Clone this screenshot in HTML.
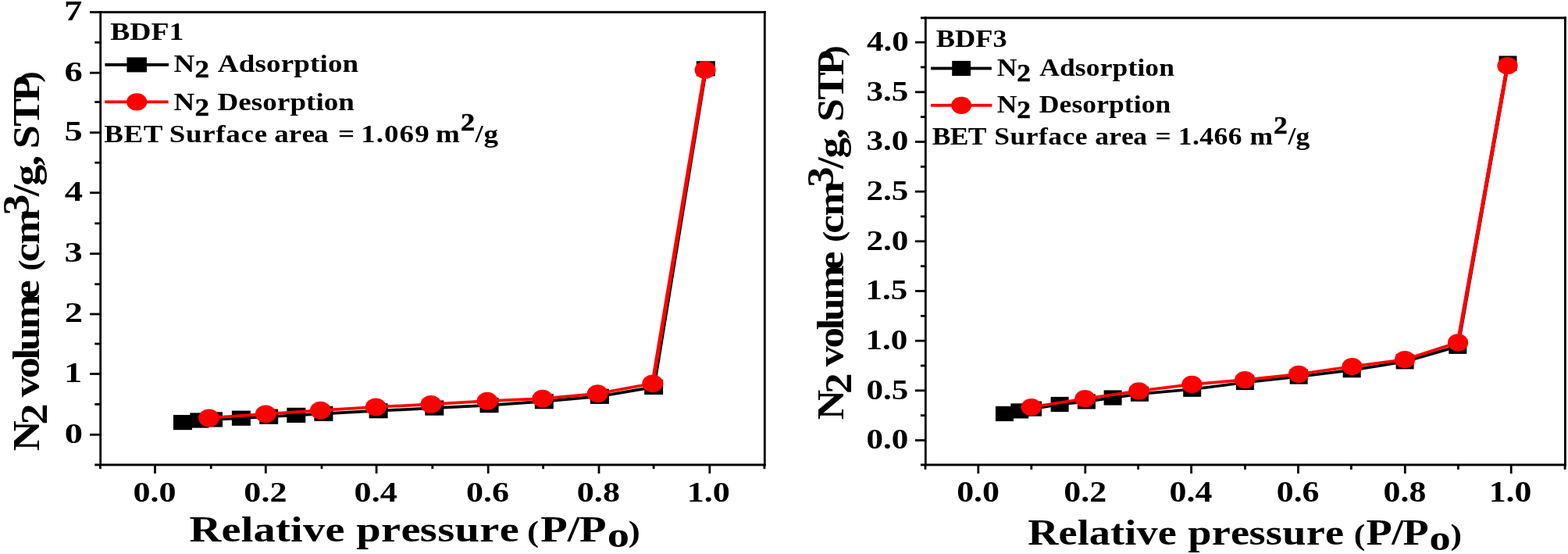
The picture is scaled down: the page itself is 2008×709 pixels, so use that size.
<!DOCTYPE html>
<html lang="en">
<head>
<meta charset="utf-8">
<title>N2 adsorption-desorption isotherms</title>
<style>
html,body{margin:0;padding:0;background:#fff;}
body{width:2008px;height:709px;overflow:hidden;}
svg{display:block;}
text{font-family:"Liberation Serif","Times New Roman",serif;font-weight:bold;font-size:40px;fill:#000;white-space:pre;}
</style>
</head>
<body>
<svg width="2008" height="709" viewBox="0 0 2008 709">
<rect x="0" y="0" width="2008" height="709" fill="#fff"/>
<g id="left-axes">
<rect x="127.30" y="14.15" width="2.80" height="582.20" fill="#000"/>
<rect x="977.90" y="14.15" width="2.80" height="582.20" fill="#000"/>
<rect x="115.00" y="14.15" width="865.70" height="2.90" fill="#000"/>
<rect x="121.30" y="593.45" width="859.40" height="2.90" fill="#000"/>
<rect x="115.00" y="554.90" width="13.70" height="2.80" fill="#000"/>
<rect x="115.00" y="477.10" width="13.70" height="2.80" fill="#000"/>
<rect x="115.00" y="400.60" width="13.70" height="2.80" fill="#000"/>
<rect x="115.00" y="323.30" width="13.70" height="2.80" fill="#000"/>
<rect x="115.00" y="245.30" width="13.70" height="2.80" fill="#000"/>
<rect x="115.00" y="168.30" width="13.70" height="2.80" fill="#000"/>
<rect x="115.00" y="91.80" width="13.70" height="2.80" fill="#000"/>
<rect x="121.30" y="516.00" width="7.40" height="2.80" fill="#000"/>
<rect x="121.30" y="438.60" width="7.40" height="2.80" fill="#000"/>
<rect x="121.30" y="362.30" width="7.40" height="2.80" fill="#000"/>
<rect x="121.30" y="284.50" width="7.40" height="2.80" fill="#000"/>
<rect x="121.30" y="206.80" width="7.40" height="2.80" fill="#000"/>
<rect x="121.30" y="129.20" width="7.40" height="2.80" fill="#000"/>
<rect x="121.30" y="52.90" width="7.40" height="2.80" fill="#000"/>
<rect x="127.00" y="594.90" width="2.80" height="5.25" fill="#000"/>
<rect x="197.10" y="594.90" width="2.80" height="11.05" fill="#000"/>
<rect x="268.80" y="594.90" width="2.80" height="5.25" fill="#000"/>
<rect x="338.90" y="594.90" width="2.80" height="11.05" fill="#000"/>
<rect x="410.60" y="594.90" width="2.80" height="5.25" fill="#000"/>
<rect x="480.70" y="594.90" width="2.80" height="11.05" fill="#000"/>
<rect x="552.40" y="594.90" width="2.80" height="5.25" fill="#000"/>
<rect x="623.80" y="594.90" width="2.80" height="11.05" fill="#000"/>
<rect x="694.20" y="594.90" width="2.80" height="5.25" fill="#000"/>
<rect x="765.60" y="594.90" width="2.80" height="11.05" fill="#000"/>
<rect x="835.70" y="594.90" width="2.80" height="5.25" fill="#000"/>
<rect x="907.40" y="594.90" width="2.80" height="11.05" fill="#000"/>
<rect x="977.50" y="594.90" width="2.80" height="5.25" fill="#000"/>
</g>
<g id="left-y-ticks">
<text transform="translate(82.65 566.64) scale(1.1647 0.9000)">0</text>
<text transform="translate(82.01 488.84) scale(1.1647 0.9000)">1</text>
<text transform="translate(82.65 412.34) scale(1.1647 0.9000)">2</text>
<text transform="translate(82.59 335.04) scale(1.1647 0.9000)">3</text>
<text transform="translate(82.77 257.04) scale(1.1647 0.9000)">4</text>
<text transform="translate(82.59 180.04) scale(1.1647 0.9000)">5</text>
<text transform="translate(82.54 103.54) scale(1.1647 0.9000)">6</text>
<text transform="translate(81.90 25.94) scale(1.1647 0.9000)">7</text>
</g><g id="left-x-ticks">
<text transform="translate(170.45 642.24) scale(1.1021 0.9074)">0.0</text>
<text transform="translate(312.36 642.24) scale(1.1021 0.9074)">0.2</text>
<text transform="translate(453.61 642.24) scale(1.1021 0.9074)">0.4</text>
<text transform="translate(596.98 642.24) scale(1.1021 0.9074)">0.6</text>
<text transform="translate(738.84 642.24) scale(1.1021 0.9074)">0.8</text>
<text transform="translate(879.81 642.24) scale(1.1021 0.9074)">1.0</text>
</g>
<g id="left-series">
<polyline transform="scale(1.35 1)" points="173.33,540.60 189.11,538.00 202.22,536.90 228.81,535.20 254.96,533.20 280.96,531.40 306.96,529.40 358.96,525.70 412.07,522.10 464.07,518.60 516.15,513.70 568.81,507.30 620.07,495.40 669.48,87.80" fill="none" stroke="#000" stroke-width="3.7" stroke-linejoin="round"/>
<rect x="222.00" y="531.00" width="24.00" height="19.20" fill="#000"/>
<rect x="243.30" y="528.40" width="24.00" height="19.20" fill="#000"/>
<rect x="261.00" y="527.30" width="24.00" height="19.20" fill="#000"/>
<rect x="296.90" y="525.60" width="24.00" height="19.20" fill="#000"/>
<rect x="332.20" y="523.60" width="24.00" height="19.20" fill="#000"/>
<rect x="367.30" y="521.80" width="24.00" height="19.20" fill="#000"/>
<rect x="402.40" y="519.80" width="24.00" height="19.20" fill="#000"/>
<rect x="472.60" y="516.10" width="24.00" height="19.20" fill="#000"/>
<rect x="544.30" y="512.50" width="24.00" height="19.20" fill="#000"/>
<rect x="614.50" y="509.00" width="24.00" height="19.20" fill="#000"/>
<rect x="684.80" y="504.10" width="24.00" height="19.20" fill="#000"/>
<rect x="755.90" y="497.70" width="24.00" height="19.20" fill="#000"/>
<rect x="825.10" y="485.80" width="24.00" height="19.20" fill="#000"/>
<rect x="891.80" y="78.20" width="24.00" height="19.20" fill="#000"/>
<polyline transform="scale(1.35 1)" points="198.22,534.90 252.07,529.80 304.07,525.10 356.52,520.90 408.81,517.40 462.22,513.20 514.67,510.20 566.81,503.70 619.11,490.80 668.96,89.40" fill="none" stroke="#f00" stroke-width="3.7" stroke-linejoin="round"/>
<ellipse cx="267.60" cy="534.90" rx="13.50" ry="11.40" fill="#f00"/>
<ellipse cx="340.30" cy="529.80" rx="13.50" ry="11.40" fill="#f00"/>
<ellipse cx="410.50" cy="525.10" rx="13.50" ry="11.40" fill="#f00"/>
<ellipse cx="481.30" cy="520.90" rx="13.50" ry="11.40" fill="#f00"/>
<ellipse cx="551.90" cy="517.40" rx="13.50" ry="11.40" fill="#f00"/>
<ellipse cx="624.00" cy="513.20" rx="13.50" ry="11.40" fill="#f00"/>
<ellipse cx="694.80" cy="510.20" rx="13.50" ry="11.40" fill="#f00"/>
<ellipse cx="765.20" cy="503.70" rx="13.50" ry="11.40" fill="#f00"/>
<ellipse cx="835.80" cy="490.80" rx="13.50" ry="11.40" fill="#f00"/>
<ellipse cx="903.10" cy="89.40" rx="13.50" ry="11.40" fill="#f00"/>
</g>
<g id="left-legend">
<rect x="134.40" y="81.00" width="81.60" height="3.80" fill="#000"/>
<rect x="162.45" y="73.40" width="25.50" height="19.00" fill="#000"/>
<rect x="134.20" y="128.50" width="81.40" height="3.80" fill="#f00"/>
<ellipse cx="175.20" cy="130.40" rx="13.10" ry="11.20" fill="#f00"/>
<text transform="translate(141.14 50.72) scale(0.9424 0.7947)">BDF1</text>
<text xml:space="preserve" transform="translate(0.00 92.10) scale(0.9250 0.7786)"><tspan x="240.54" y="0.00">N</tspan><tspan x="269.78" y="8.86" stroke="#000" stroke-width="0.589" stroke-linejoin="round">2</tspan><tspan x="289.78 301.44 330.50 352.91 368.65 388.82 406.75 429.17 442.66 453.94 474.11" y="0.00"> Adsorption</tspan></text>
<text xml:space="preserve" transform="translate(0.00 140.60) scale(0.9250 0.7786)"><tspan x="240.54" y="0.00">N</tspan><tspan x="269.78" y="8.86" stroke="#000" stroke-width="0.589" stroke-linejoin="round">2</tspan><tspan x="289.78 301.14 330.10 347.94 363.59 383.67 401.50 423.83 437.23 448.42 468.50" y="0.00"> Desorption</tspan></text>
<text xml:space="preserve" transform="translate(0.00 181.80) scale(0.9250 0.7786)"><tspan x="144.16 171.44 198.72 225.40 234.33 257.32 280.30 298.79 312.85 333.59 352.08 369.83 379.67 399.84 417.76 434.97 454.97 468.05 490.85 499.61 520.77 531.94 553.10 574.26 594.26 603.15" y="0.00">BET Surface area = 1.069 m</tspan><tspan x="637.68" y="-18.75" stroke="#000" stroke-width="0.589" stroke-linejoin="round">2</tspan><tspan x="657.86 669.76" y="0.00">/g</tspan></text>
</g>
<text xml:space="preserve" transform="translate(0.00 693.20) scale(1.4125 1.1527)"><tspan x="171.62 200.65 218.54 229.80 249.94 263.40 274.65 294.80 312.55 323.04 345.53 363.52 380.79 396.60 412.40 434.89 452.88" y="0.00">Relative pressure</tspan><tspan x="469.92 477.88" y="0.00" font-size="32.00"> (</tspan><tspan x="490.16 514.59 525.31" y="0.00">P/P</tspan><tspan x="550.60" y="6.07">o</tspan><tspan x="569.71" y="0.00" font-size="32.00">)</tspan></text>
<g id="right-axes">
<rect x="1183.90" y="21.45" width="2.80" height="574.90" fill="#000"/>
<rect x="2003.00" y="21.45" width="2.80" height="574.90" fill="#000"/>
<rect x="1178.90" y="21.45" width="826.90" height="2.90" fill="#000"/>
<rect x="1178.90" y="593.45" width="826.90" height="2.90" fill="#000"/>
<rect x="1171.90" y="562.10" width="13.40" height="2.80" fill="#000"/>
<rect x="1171.90" y="498.43" width="13.40" height="2.80" fill="#000"/>
<rect x="1171.90" y="434.76" width="13.40" height="2.80" fill="#000"/>
<rect x="1171.90" y="371.09" width="13.40" height="2.80" fill="#000"/>
<rect x="1171.90" y="307.42" width="13.40" height="2.80" fill="#000"/>
<rect x="1171.90" y="243.75" width="13.40" height="2.80" fill="#000"/>
<rect x="1171.90" y="180.08" width="13.40" height="2.80" fill="#000"/>
<rect x="1171.90" y="116.41" width="13.40" height="2.80" fill="#000"/>
<rect x="1171.90" y="52.74" width="13.40" height="2.80" fill="#000"/>
<rect x="1178.90" y="530.26" width="6.40" height="2.80" fill="#000"/>
<rect x="1178.90" y="466.60" width="6.40" height="2.80" fill="#000"/>
<rect x="1178.90" y="402.93" width="6.40" height="2.80" fill="#000"/>
<rect x="1178.90" y="339.25" width="6.40" height="2.80" fill="#000"/>
<rect x="1178.90" y="275.59" width="6.40" height="2.80" fill="#000"/>
<rect x="1178.90" y="211.91" width="6.40" height="2.80" fill="#000"/>
<rect x="1178.90" y="148.24" width="6.40" height="2.80" fill="#000"/>
<rect x="1178.90" y="84.57" width="6.40" height="2.80" fill="#000"/>
<rect x="1183.60" y="594.90" width="2.80" height="5.95" fill="#000"/>
<rect x="1251.40" y="594.90" width="2.80" height="11.15" fill="#000"/>
<rect x="1319.40" y="594.90" width="2.80" height="5.95" fill="#000"/>
<rect x="1388.40" y="594.90" width="2.80" height="11.15" fill="#000"/>
<rect x="1456.20" y="594.90" width="2.80" height="5.95" fill="#000"/>
<rect x="1524.20" y="594.90" width="2.80" height="11.15" fill="#000"/>
<rect x="1593.10" y="594.90" width="2.80" height="5.95" fill="#000"/>
<rect x="1661.10" y="594.90" width="2.80" height="11.15" fill="#000"/>
<rect x="1729.00" y="594.90" width="2.80" height="5.95" fill="#000"/>
<rect x="1797.90" y="594.90" width="2.80" height="11.15" fill="#000"/>
<rect x="1866.00" y="594.90" width="2.80" height="5.95" fill="#000"/>
<rect x="1933.80" y="594.90" width="2.80" height="11.15" fill="#000"/>
<rect x="2002.70" y="594.90" width="2.80" height="5.95" fill="#000"/>
</g>
<g id="right-y-ticks">
<text transform="translate(1109.49 574.34) scale(1.0766 0.8963)">0.0</text>
<text transform="translate(1109.49 510.67) scale(1.0766 0.8963)">0.5</text>
<text transform="translate(1108.57 447.00) scale(1.0766 0.8963)">1.0</text>
<text transform="translate(1108.57 383.33) scale(1.0766 0.8963)">1.5</text>
<text transform="translate(1109.38 319.66) scale(1.0766 0.8963)">2.0</text>
<text transform="translate(1109.38 255.99) scale(1.0766 0.8963)">2.5</text>
<text transform="translate(1109.49 192.32) scale(1.0766 0.8963)">3.0</text>
<text transform="translate(1109.49 128.65) scale(1.0766 0.8963)">3.5</text>
<text transform="translate(1110.02 64.98) scale(1.0766 0.8963)">4.0</text>
</g><g id="right-x-ticks">
<text transform="translate(1225.21 641.53) scale(1.0957 0.9259)">0.0</text>
<text transform="translate(1362.32 641.53) scale(1.0957 0.9259)">0.2</text>
<text transform="translate(1497.57 641.53) scale(1.0957 0.9259)">0.4</text>
<text transform="translate(1634.74 641.53) scale(1.0957 0.9259)">0.6</text>
<text transform="translate(1771.60 641.53) scale(1.0957 0.9259)">0.8</text>
<text transform="translate(1906.67 641.53) scale(1.0957 0.9259)">1.0</text>
</g>
<g id="right-series">
<polyline transform="scale(1.3 1)" points="989.54,529.50 1004.46,525.90 1017.31,523.10 1043.92,517.50 1070.31,513.90 1096.23,509.00 1122.62,504.20 1174.38,498.20 1226.46,489.50 1279.38,482.00 1331.69,473.60 1383.92,462.80 1436.00,443.30 1485.38,81.10" fill="none" stroke="#000" stroke-width="3.7" stroke-linejoin="round"/>
<rect x="1274.90" y="519.90" width="23.00" height="19.20" fill="#000"/>
<rect x="1294.30" y="516.30" width="23.00" height="19.20" fill="#000"/>
<rect x="1311.00" y="513.50" width="23.00" height="19.20" fill="#000"/>
<rect x="1345.60" y="507.90" width="23.00" height="19.20" fill="#000"/>
<rect x="1379.90" y="504.30" width="23.00" height="19.20" fill="#000"/>
<rect x="1413.60" y="499.40" width="23.00" height="19.20" fill="#000"/>
<rect x="1447.90" y="494.60" width="23.00" height="19.20" fill="#000"/>
<rect x="1515.20" y="488.60" width="23.00" height="19.20" fill="#000"/>
<rect x="1582.90" y="479.90" width="23.00" height="19.20" fill="#000"/>
<rect x="1651.70" y="472.40" width="23.00" height="19.20" fill="#000"/>
<rect x="1719.70" y="464.00" width="23.00" height="19.20" fill="#000"/>
<rect x="1787.60" y="453.20" width="23.00" height="19.20" fill="#000"/>
<rect x="1855.30" y="433.70" width="23.00" height="19.20" fill="#000"/>
<rect x="1919.50" y="71.50" width="23.00" height="19.20" fill="#000"/>
<polyline transform="scale(1.3 1)" points="1015.92,521.00 1068.77,510.20 1121.77,500.40 1174.15,491.90 1226.38,486.10 1279.31,478.80 1332.00,469.00 1383.92,460.20 1436.23,438.30 1485.00,84.20" fill="none" stroke="#f00" stroke-width="3.7" stroke-linejoin="round"/>
<ellipse cx="1320.70" cy="521.00" rx="13.15" ry="11.10" fill="#f00"/>
<ellipse cx="1389.40" cy="510.20" rx="13.15" ry="11.10" fill="#f00"/>
<ellipse cx="1458.30" cy="500.40" rx="13.15" ry="11.10" fill="#f00"/>
<ellipse cx="1526.40" cy="491.90" rx="13.15" ry="11.10" fill="#f00"/>
<ellipse cx="1594.30" cy="486.10" rx="13.15" ry="11.10" fill="#f00"/>
<ellipse cx="1663.10" cy="478.80" rx="13.15" ry="11.10" fill="#f00"/>
<ellipse cx="1731.60" cy="469.00" rx="13.15" ry="11.10" fill="#f00"/>
<ellipse cx="1799.10" cy="460.20" rx="13.15" ry="11.10" fill="#f00"/>
<ellipse cx="1867.10" cy="438.30" rx="13.15" ry="11.10" fill="#f00"/>
<ellipse cx="1930.50" cy="84.20" rx="13.15" ry="11.10" fill="#f00"/>
</g>
<g id="right-legend">
<rect x="1192.00" y="85.60" width="77.80" height="3.80" fill="#000"/>
<rect x="1219.20" y="77.90" width="23.80" height="19.20" fill="#000"/>
<rect x="1192.00" y="132.90" width="78.40" height="3.80" fill="#f00"/>
<ellipse cx="1231.10" cy="134.80" rx="12.90" ry="11.15" fill="#f00"/>
<text transform="translate(1198.86 59.52) scale(0.9081 0.7719)">BDF3</text>
<text xml:space="preserve" transform="translate(0.00 96.90) scale(0.8875 0.7634)"><tspan x="1438.70" y="0.00">N</tspan><tspan x="1467.41" y="9.17" stroke="#000" stroke-width="0.607" stroke-linejoin="round">2</tspan><tspan x="1487.41 1499.88 1528.92 1551.32 1567.05 1587.20 1605.11 1627.51 1640.99 1652.25 1672.41" y="0.00"> Adsorption</tspan></text>
<text xml:space="preserve" transform="translate(0.00 144.40) scale(0.8875 0.7634)"><tspan x="1438.70" y="0.00">N</tspan><tspan x="1467.41" y="9.17" stroke="#000" stroke-width="0.607" stroke-linejoin="round">2</tspan><tspan x="1487.41 1499.58 1528.56 1546.40 1562.05 1582.14 1599.98 1622.31 1635.72 1646.92 1667.01" y="0.00"> Desorption</tspan></text>
<text xml:space="preserve" transform="translate(0.00 185.40) scale(0.8875 0.7634)"><tspan x="1345.10 1371.03 1396.96 1423.64 1434.75 1457.53 1480.32 1498.62 1512.48 1533.03 1551.32 1569.08 1580.11 1600.22 1618.09 1635.24 1655.24 1667.18 1689.97 1700.12 1720.61 1731.10 1751.59 1772.07 1792.07 1803.49" y="0.00">BET Surface area = 1.466 m</tspan><tspan x="1837.72" y="-19.13" stroke="#000" stroke-width="0.607" stroke-linejoin="round">2</tspan><tspan x="1858.56 1869.76" y="0.00">/g</tspan></text>
</g>
<text xml:space="preserve" transform="translate(0.00 696.90) scale(1.3588 1.1527)"><tspan x="968.67 997.60 1015.40 1026.55 1046.60 1059.96 1071.12 1091.16 1108.91 1119.51 1141.95 1159.89 1177.11 1192.86 1208.61 1231.05 1248.99" y="0.00">Relative pressure</tspan><tspan x="1266.02 1275.88" y="0.00" font-size="32.00"> (</tspan><tspan x="1287.54 1311.58 1322.17" y="0.00">P/P</tspan><tspan x="1347.17" y="6.25">o</tspan><tspan x="1366.94" y="0.00" font-size="32.00">)</tspan></text>
<text xml:space="preserve" transform="translate(50.10 577.30) rotate(-90) scale(1.3500 1.1900)"><tspan x="0.03" y="0.00">N</tspan><tspan x="25.11" y="8.32">2</tspan><tspan x="45.11 51.22 69.00 86.29 95.03 115.48 144.43" y="0.00"> volume</tspan><tspan x="162.19 170.81" y="0.00" font-size="32.00"> (</tspan><tspan x="179.38 195.96" y="0.00">cm</tspan><tspan x="223.39" y="-11.34">3</tspan><tspan x="241.49 251.58 270.35 280.35 286.77 307.80 331.30" y="0.00">/g, STP</tspan><tspan x="349.36" y="0.00" font-size="32.00">)</tspan></text>
<text xml:space="preserve" transform="translate(1080.10 537.40) rotate(-90) scale(1.3311 1.1900)"><tspan x="0.03" y="0.00">N</tspan><tspan x="25.11" y="8.32">2</tspan><tspan x="45.11 51.22 69.00 86.29 95.03 115.48 144.43" y="0.00"> volume</tspan><tspan x="162.19 170.81" y="0.00" font-size="32.00"> (</tspan><tspan x="179.38 195.96" y="0.00">cm</tspan><tspan x="223.39" y="-11.34">3</tspan><tspan x="241.49 251.58 270.35 280.35 286.77 307.80 331.30" y="0.00">/g, STP</tspan><tspan x="349.36" y="0.00" font-size="32.00">)</tspan></text>
</svg>
</body>
</html>
